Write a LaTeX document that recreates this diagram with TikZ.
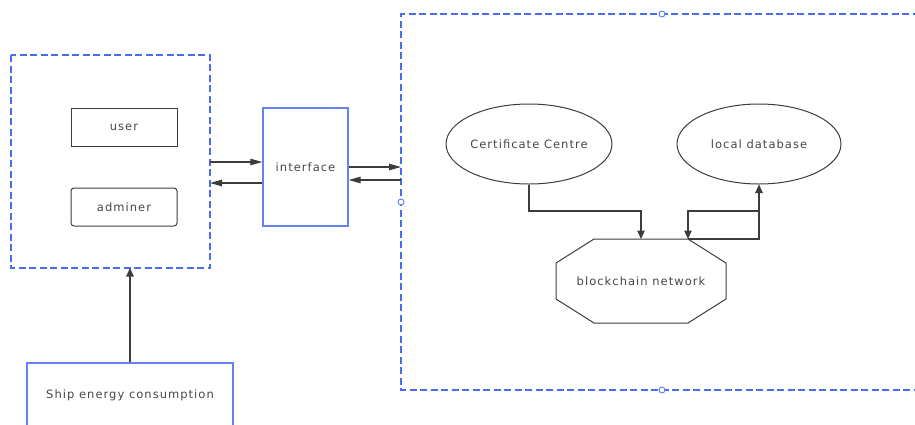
\documentclass[tikz,border=0pt]{standalone}
\usepackage{fontspec}
\setmainfont[LetterSpace=9]{DejaVu Sans}
\usetikzlibrary{arrows.meta,shapes.geometric}
\definecolor{frameblue}{RGB}{72,110,238}
\definecolor{boxblue}{RGB}{100,130,242}
\definecolor{linegray}{RGB}{60,60,60}
\definecolor{textgray}{RGB}{70,70,70}
\tikzset{
  every node/.style={font=\fontsize{11.5}{13}\selectfont, text=textgray},
  group/.style={draw=frameblue, line width=1.1pt, dash pattern=on 7pt off 3.5pt},
  plainbox/.style={draw=linegray, line width=1pt, minimum width=106pt, minimum height=38pt, inner sep=0pt},
  bluebox/.style={draw=boxblue, line width=1.4pt, inner sep=0pt},
  cloud/.style={draw=linegray, line width=1pt, ellipse, minimum width=164pt, minimum height=80pt, inner sep=0pt},
  linkh/.style={draw=linegray, line width=1.2pt, -{Triangle[length=12pt,width=6.5pt]}},
  linkv/.style={draw=linegray, line width=1.2pt, -{Triangle[length=8.5pt,width=7.5pt]}},
  handle/.style={draw=frameblue, fill=white, line width=0.8pt, circle, minimum size=6pt, inner sep=0pt}
}
\begin{document}
\begin{tikzpicture}[x=1pt,y=-1pt]
\useasboundingbox (0,0) rectangle (915,424);
\clip (0,0) rectangle (915,424);

% client side group with its two roles
\draw[group] (11,55) rectangle (210,268);
\node[plainbox] (user) at (124,127.5) {user};
\node[plainbox, rounded corners=3pt] (adminer) at (124,207) {adminer};

% interface between the two groups
\node[bluebox, minimum width=85pt, minimum height=118pt] (iface) at (305.5,167) {interface};

% server side group, open to the right
\draw[group] (930,14) -- (401,14) -- (401,390) -- (930,390);
\node[handle] (h1) at (662,14) {};
\node[handle] (h2) at (662,390) {};
\node[handle] (h3) at (401,202) {};

% data source feeding the client group (runs past the lower edge)
\node[bluebox, minimum width=206pt, minimum height=64pt] (ship) at (130,395) {Ship energy consumption};

% nodes inside the server group
\node[cloud] (cert) at (529,144) {Certificate Centre};
\node[cloud] (db) at (759,144) {local database};
\draw[linegray, line width=1pt] (594,239) -- (688,239) -- (726,263) -- (726,299) -- (688,323) -- (594,323) -- (556,299) -- (556,263) -- cycle;
\node (chain) at (641,281) {blockchain network};

% connectors between client group, interface and server group
\coordinate (gR1) at (210,162);
\coordinate (gR2) at (210,183);
\coordinate (sL1) at (401,167);
\coordinate (sL2) at (401,180);
\coordinate (gB) at (130,268);
\draw[linkh] (gR1) -- (iface.west |- gR1);
\draw[linkh] (iface.west |- gR2) -- (gR2);
\draw[linkh] (iface.east |- sL1) -- (sL1);
\draw[linkh] (sL2) -- (iface.east |- sL2);
\draw[linkv] (ship.north) -- (gB);

% connectors inside the server group
\coordinate (topA) at (641,239);
\coordinate (topB) at (688,239);
\draw[linkv] (cert.south) |- (641,211) -- (topA);
\draw[linkv] (topB) -| (db.south);
\draw[linkv] (759,211) -| (topB);
\end{tikzpicture}
\end{document}
